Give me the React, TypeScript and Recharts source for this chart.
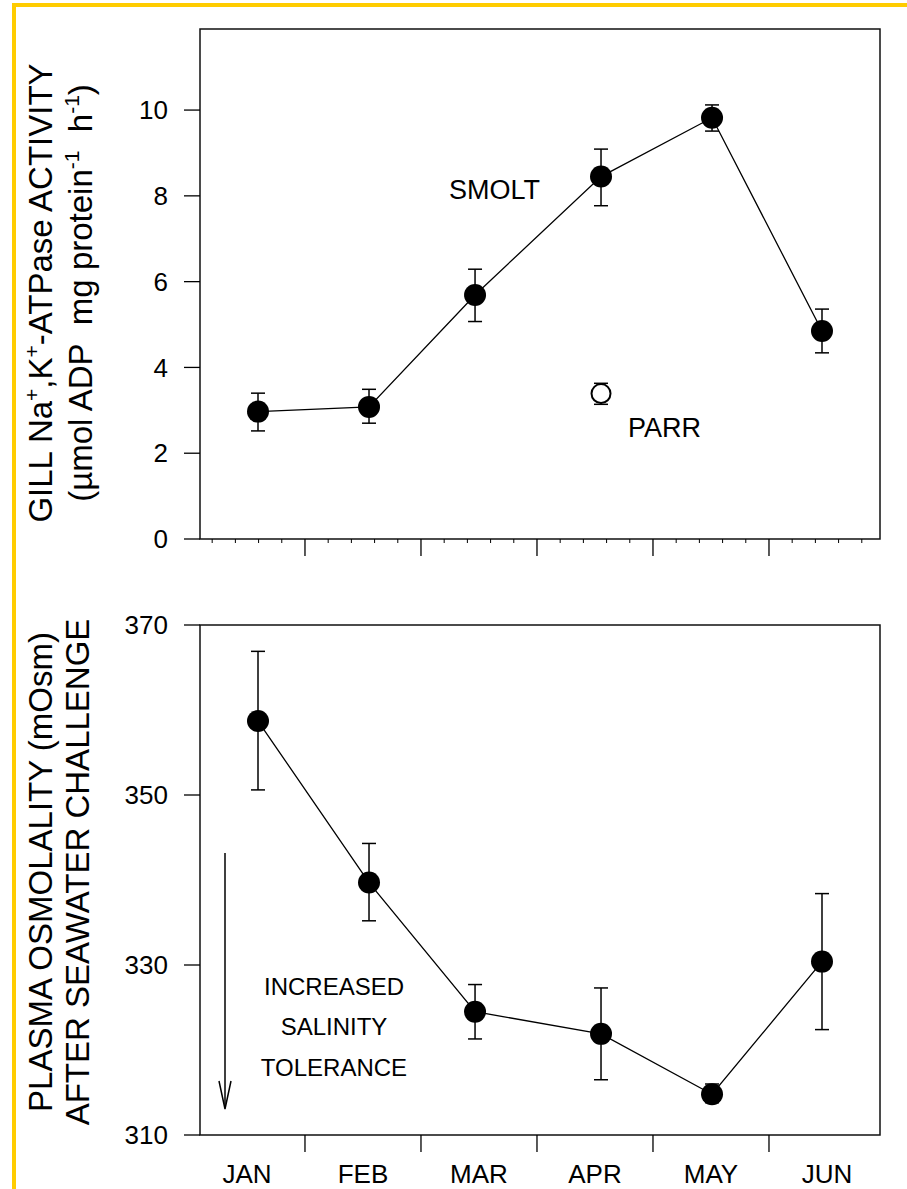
import React from "react";
import { ComposedChart, Line, XAxis, YAxis, ErrorBar, ReferenceArea } from "recharts";

const FONT = '"Liberation Sans", Arial, Helvetica, sans-serif';

// x in months from 1 Jan (JAN spans 0..1, FEB 1..2, ...)
const sampleX = [0.595, 1.552, 2.466, 3.552, 4.509, 5.457];
const months = ["JAN", "FEB", "MAR", "APR", "MAY", "JUN"];
const monthMid = [0.5, 1.5, 2.5, 3.5, 4.5, 5.5];
const monthEdge = [1, 2, 3, 4, 5];
const minorTicks = [
  0.2, 0.4, 0.6, 0.8, 1.2, 1.4, 1.6, 1.8, 2.2, 2.4, 2.6, 2.8, 3.2, 3.4, 3.6, 3.8,
  4.2, 4.4, 4.6, 4.8, 5.2, 5.4, 5.6, 5.8,
];
const xDomain = [0.095, 5.957];

// gill Na+,K+-ATPase activity
const smoltAtpase = [2.97, 3.08, 5.69, 8.45, 9.82, 4.85];
const smoltAtpaseErr = [[0.45, 0.43], [0.38, 0.41], [0.62, 0.6], [0.68, 0.64], [0.31, 0.3], [0.51, 0.51]];
const parrX = [3.552];
const parrAtpase = [3.39];
const parrAtpaseErr = [[0.25, 0.24]];
const atpaseTicks = [0, 2, 4, 6, 8, 10];
const atpaseDomain = [0, 11.89];

// plasma osmolality after seawater challenge
const osmolality = [358.7, 339.7, 324.5, 321.9, 314.8, 330.4];
const osmolalityErr = [[8.1, 8.2], [4.5, 4.6], [3.2, 3.2], [5.4, 5.4], [1.0, 1.2], [8.0, 8.0]];
const osmTicks = [310, 330, 350, 370];
const osmDomain = [310, 370];

const atpaseData = sampleX.map((x, i) => ({ x, y: smoltAtpase[i], err: smoltAtpaseErr[i] }));
const parrData = parrX.map((x, i) => ({ x, y: parrAtpase[i], err: parrAtpaseErr[i] }));
const osmData = sampleX.map((x, i) => ({ x, y: osmolality[i], err: osmolalityErr[i] }));

const tickFont = { fontSize: 26, fill: "#000", fontFamily: FONT };

// month boundaries get long ticks, mid-months carry the label, the rest are minor ticks
function renderMonthTick(props: any, withLabels: boolean) {
  const { x, y, payload } = props;
  const v = payload.value;
  const mid = monthMid.indexOf(v);
  if (monthEdge.includes(v)) {
    return <line x1={x} y1={y} x2={x} y2={y + 17} stroke="#000" strokeWidth={1.3} />;
  }
  if (mid >= 0) {
    if (!withLabels) return <g />;
    return (
      <text x={x} y={y + 48} textAnchor="middle" {...tickFont}>
        {months[mid]}
      </text>
    );
  }
  return <line x1={x} y1={y} x2={x} y2={y + 4} stroke="#000" strokeWidth={1} />;
}

export default function App() {
  return (
    <div style={{ position: "absolute", left: 0, top: 0, width: 907, height: 1189, background: "#fff", fontFamily: FONT }}>
      <div
        style={{
          position: "absolute",
          left: 12,
          top: 3,
          width: 895,
          height: 1186,
          borderTop: "4px solid #FFCC00",
          borderLeft: "4px solid #FFCC00",
          boxSizing: "border-box",
        }}
      />
      <div style={{ position: "absolute", left: 0, top: 0 }}>
        <ComposedChart width={907} height={600} margin={{ top: 29, right: 27, bottom: 1, left: 0 }}>
          <XAxis
            dataKey="x"
            type="number"
            domain={xDomain}
            allowDataOverflow
            ticks={[...minorTicks, ...monthEdge]}
            interval={0}
            height={60}
            tickSize={0}
            tickMargin={0}
            tickLine={false}
            axisLine={false}
            tick={(p: any) => renderMonthTick(p, false)}
          />
          <YAxis
            type="number"
            domain={atpaseDomain}
            allowDataOverflow
            ticks={atpaseTicks}
            width={200}
            tickSize={16}
            tickMargin={16}
            axisLine={false}
            tickLine={{ stroke: "#000", strokeWidth: 1.3 }}
            tick={tickFont}
          />
          <ReferenceArea
            x1={xDomain[0]}
            x2={xDomain[1]}
            y1={atpaseDomain[0]}
            y2={atpaseDomain[1]}
            fill="none"
            fillOpacity={0}
            stroke="#111"
            strokeWidth={1.5}
          />
          <Line
            data={atpaseData}
            dataKey="y"
            type="linear"
            stroke="#000"
            strokeWidth={1.3}
            dot={{ r: 11, fill: "#000", stroke: "#000", strokeWidth: 0 }}
            isAnimationActive={false}
          >
            <ErrorBar dataKey="err" width={7} stroke="#000" strokeWidth={1.5} />
          </Line>
          <Line
            data={parrData}
            dataKey="y"
            type="linear"
            stroke="none"
            dot={{ r: 9.5, fill: "#fff", stroke: "#000", strokeWidth: 2 }}
            isAnimationActive={false}
          >
            <ErrorBar dataKey="err" width={7} stroke="#000" strokeWidth={1.5} />
          </Line>
        </ComposedChart>
      </div>
      <div style={{ position: "absolute", left: 0, top: 600 }}>
        <ComposedChart width={907} height={589} margin={{ top: 25, right: 27, bottom: 4, left: 0 }}>
          <XAxis
            dataKey="x"
            type="number"
            domain={xDomain}
            allowDataOverflow
            ticks={[...monthEdge, ...monthMid]}
            interval={0}
            height={50}
            tickSize={0}
            tickMargin={0}
            tickLine={false}
            axisLine={false}
            tick={(p: any) => renderMonthTick(p, true)}
          />
          <YAxis
            type="number"
            domain={osmDomain}
            allowDataOverflow
            ticks={osmTicks}
            width={200}
            tickSize={16}
            tickMargin={16}
            axisLine={false}
            tickLine={{ stroke: "#000", strokeWidth: 1.3 }}
            tick={tickFont}
          />
          <ReferenceArea
            x1={xDomain[0]}
            x2={xDomain[1]}
            y1={osmDomain[0]}
            y2={osmDomain[1]}
            fill="none"
            fillOpacity={0}
            stroke="#111"
            strokeWidth={1.5}
          />
          <Line
            data={osmData}
            dataKey="y"
            type="linear"
            stroke="#000"
            strokeWidth={1.3}
            dot={{ r: 11, fill: "#000", stroke: "#000", strokeWidth: 0 }}
            isAnimationActive={false}
          >
            <ErrorBar dataKey="err" width={7} stroke="#000" strokeWidth={1.5} />
          </Line>
        </ComposedChart>
      </div>
      <svg
        width={907}
        height={1189}
        style={{ position: "absolute", left: 0, top: 0, pointerEvents: "none" }}
        fontFamily={FONT}
      >
        <g transform="rotate(-90)" fontSize={33} fill="#000" textAnchor="middle">
          <text x={-293} y={52}>
            GILL Na<tspan dy={-13} fontSize={21}>+</tspan>
            <tspan dy={13}>,K</tspan>
            <tspan dy={-13} fontSize={21}>+</tspan>
            <tspan dy={13}>-ATPase ACTIVITY</tspan>
          </text>
          <text x={-293} y={92}>
            (µmol ADP{"\u00A0\u00A0"}mg protein<tspan dy={-13} fontSize={21}>-1</tspan>
            <tspan dy={13}>{"\u00A0\u00A0"}h</tspan>
            <tspan dy={-13} fontSize={21}>-1</tspan>
            <tspan dy={13}>)</tspan>
          </text>
          <text x={-872} y={52}>PLASMA OSMOLALITY (mOsm)</text>
          <text x={-872} y={89}>AFTER SEAWATER CHALLENGE</text>
        </g>
        <text x={449} y={199} fontSize={27} fill="#000">SMOLT</text>
        <text x={628} y={437} fontSize={27} fill="#000">PARR</text>
        <g fontSize={24} fill="#000" textAnchor="middle">
          <text x={334} y={995}>INCREASED</text>
          <text x={334} y={1035}>SALINITY</text>
          <text x={334} y={1076}>TOLERANCE</text>
        </g>
        <g stroke="#000" strokeWidth={1.5} fill="none">
          <line x1={225} y1={853} x2={225} y2={1108} />
          <polyline points="219,1081 225,1109 231,1081" />
        </g>
      </svg>
    </div>
  );
}
